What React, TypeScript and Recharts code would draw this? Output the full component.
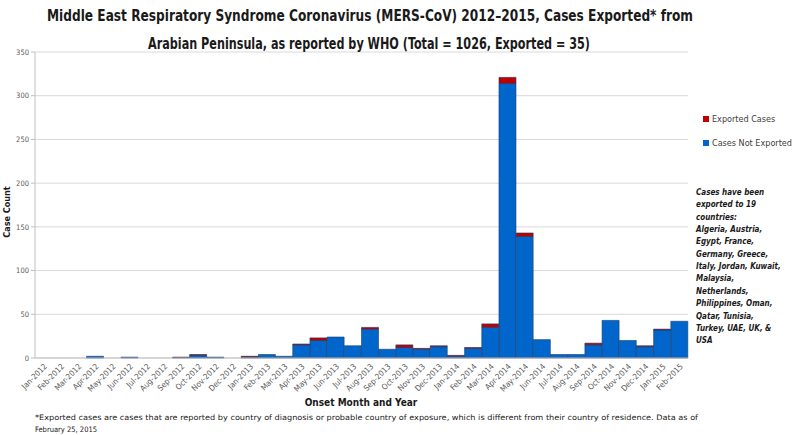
import { Bar, BarChart, CartesianGrid, XAxis, YAxis } from 'recharts'

const months = [
  'Jan-2012', 'Feb-2012', 'Mar-2012', 'Apr-2012', 'May-2012', 'Jun-2012',
  'Jul-2012', 'Aug-2012', 'Sep-2012', 'Oct-2012', 'Nov-2012', 'Dec-2012',
  'Jan-2013', 'Feb-2013', 'Mar-2013', 'Apr-2013', 'May-2013', 'Jun-2013',
  'Jul-2013', 'Aug-2013', 'Sep-2013', 'Oct-2013', 'Nov-2013', 'Dec-2013',
  'Jan-2014', 'Feb-2014', 'Mar-2014', 'Apr-2014', 'May-2014', 'Jun-2014',
  'Jul-2014', 'Aug-2014', 'Sep-2014', 'Oct-2014', 'Nov-2014', 'Dec-2014',
  'Jan-2015', 'Feb-2015',
]

const notExported = [
  0, 0, 0, 2, 0, 1, 0, 0, 0, 3, 1, 0,
  1, 4, 2, 15, 20, 24, 14, 33, 10, 12, 10, 13,
  2, 11, 35, 314, 139, 21, 4, 4, 15, 43, 20, 13,
  32, 42,
]

const exported = [
  0, 0, 0, 0, 0, 0, 0, 0, 1, 1, 0, 0,
  1, 0, 0, 1, 3, 0, 0, 2, 0, 3, 1, 1,
  1, 1, 4, 7, 4, 0, 0, 0, 2, 0, 0, 1,
  1, 0,
]

const yTicks = [0, 50, 100, 150, 200, 250, 300, 350]

const titleLines = [
  'Middle East Respiratory Syndrome Coronavirus (MERS-CoV) 2012\u20132015, Cases Exported* from',
  'Arabian Peninsula, as reported by WHO (Total = 1026, Exported = 35)',
]

const noteLines = [
  'Cases have been',
  'exported to 19',
  'countries:',
  'Algeria, Austria,',
  'Egypt, France,',
  'Germany, Greece,',
  'Italy, Jordan, Kuwait,',
  'Malaysia,',
  'Netherlands,',
  'Philippines, Oman,',
  'Qatar, Tunisia,',
  'Turkey, UAE, UK, &',
  'USA',
]

const footnoteLines = [
  '*Exported cases are cases that are reported by country of diagnosis or probable country of exposure, which is different from their country of residence. Data as of',
  'February 25, 2015',
]

const data = months.map((month, i) => ({
  month,
  notExported: notExported[i],
  exported: exported[i],
}))

const narrow = '"Liberation Sans Narrow", "DejaVu Sans Condensed", "Open Sans", sans-serif'
const blue = '#0066CC'
const red = '#C00000'
const edge = '#1B3A66'

function MonthTick({ x, y, payload }: { x?: number; y?: number; payload?: { value: string } }) {
  return (
    <g transform={`translate(${(x ?? 0) + 4},${(y ?? 0) + 1})`}>
      <text
        textAnchor="end"
        transform="rotate(-45)"
        fontFamily={narrow}
        fontSize={8}
        fill="#595959"
      >
        {payload?.value}
      </text>
    </g>
  )
}

export default function App() {
  return (
    <div style={{ position: 'fixed', left: 0, top: 0, width: 800, height: 435, background: '#fff' }}>
      <BarChart
        width={800}
        height={435}
        data={data}
        margin={{ top: 52, right: 112, bottom: 47, left: 0 }}
        barCategoryGap={0}
      >
        <CartesianGrid vertical={false} stroke="#D9D9D9" />
        <XAxis
          dataKey="month"
          interval={0}
          height={30}
          tick={<MonthTick />}
          tickLine={false}
          stroke="#BFBFBF"
        />
        <YAxis
          width={35}
          domain={[0, 350]}
          ticks={yTicks}
          tickSize={4}
          tickMargin={2}
          stroke="#BFBFBF"
          tick={{ fontSize: 7.5, fill: '#595959', fontFamily: narrow }}
        />
        <Bar
          dataKey="notExported"
          stackId="cases"
          fill={blue}
          stroke={edge}
          strokeWidth={0.6}
          isAnimationActive={false}
        />
        <Bar
          dataKey="exported"
          stackId="cases"
          fill={red}
          stroke={edge}
          strokeWidth={0.6}
          isAnimationActive={false}
        />
      </BarChart>

      <svg
        width={800}
        height={435}
        style={{ position: 'absolute', left: 0, top: 0, pointerEvents: 'none' }}
      >
        {/* title */}
        <text
          x={370}
          y={21}
          textAnchor="middle"
          fontFamily={narrow}
          fontWeight="bold"
          fontSize={15.5}
          fill="#1a1a1a"
          textLength={646}
          lengthAdjust="spacingAndGlyphs"
        >
          {titleLines[0]}
        </text>
        <text
          x={369}
          y={49}
          textAnchor="middle"
          fontFamily={narrow}
          fontWeight="bold"
          fontSize={15.5}
          fill="#1a1a1a"
          textLength={442}
          lengthAdjust="spacingAndGlyphs"
        >
          {titleLines[1]}
        </text>

        {/* axis titles */}
        <text
          x={0}
          y={0}
          transform="translate(10,212) rotate(-90)"
          textAnchor="middle"
          fontFamily={narrow}
          fontWeight="bold"
          fontSize={9}
          fill="#1a1a1a"
        >
          Case Count
        </text>
        <text
          x={361}
          y={406}
          textAnchor="middle"
          fontFamily={narrow}
          fontWeight="bold"
          fontSize={10}
          fill="#1a1a1a"
        >
          Onset Month and Year
        </text>

        {/* legend */}
        <rect x={703} y={116} width={6} height={6} fill={red} />
        <text x={712} y={122} fontFamily={narrow} fontSize={9} fill="#404040">
          Exported Cases
        </text>
        <rect x={703} y={140} width={6} height={6} fill={blue} />
        <text x={712} y={146} fontFamily={narrow} fontSize={9} fill="#404040">
          Cases Not Exported
        </text>

        {/* side note */}
        {noteLines.map((line, i) => (
          <text
            key={line}
            x={696}
            y={195 + i * 12.35}
            fontFamily={narrow}
            fontWeight="bold"
            fontStyle="italic"
            fontSize={8}
            fill="#1a1a1a"
          >
            {line}
          </text>
        ))}

        {/* footnote */}
        <text
          x={35}
          y={420}
          fontFamily={narrow}
          fontSize={7.5}
          fill="#1a1a1a"
          textLength={663}
          lengthAdjust="spacingAndGlyphs"
        >
          {footnoteLines[0]}
        </text>
        <text x={35} y={432} fontFamily={narrow} fontSize={7.5} fill="#1a1a1a">
          {footnoteLines[1]}
        </text>
      </svg>
    </div>
  )
}
